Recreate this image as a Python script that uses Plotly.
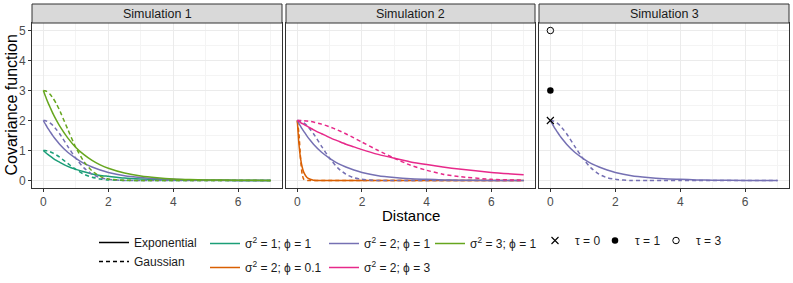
import plotly.graph_objects as go

W, H = 793, 283

# ---------------- data ----------------
dist = [0, 0.05, 0.1, 0.15, 0.2, 0.3, 0.4, 0.5, 0.75, 1, 1.25, 1.5, 1.75, 2,
        2.5, 3, 3.5, 4, 4.5, 5, 6, 7]

teal_exp = [1.00, 0.95, 0.90, 0.86, 0.82, 0.74, 0.67, 0.61, 0.47, 0.37, 0.29, 0.22,
            0.17, 0.14, 0.08, 0.05, 0.03, 0.02, 0.01, 0.01, 0.00, 0.00]
teal_gau = [1.00, 1.00, 0.99, 0.98, 0.96, 0.91, 0.85, 0.78, 0.57, 0.37, 0.21, 0.11,
            0.05, 0.02, 0.00, 0.00, 0.00, 0.00, 0.00, 0.00, 0.00, 0.00]
purple_exp = [2.00, 1.90, 1.81, 1.72, 1.64, 1.48, 1.34, 1.21, 0.94, 0.74, 0.57, 0.45,
              0.35, 0.27, 0.16, 0.10, 0.06, 0.04, 0.02, 0.01, 0.00, 0.00]
purple_gau = [2.00, 2.00, 1.98, 1.96, 1.92, 1.83, 1.70, 1.56, 1.14, 0.74, 0.42, 0.21,
              0.09, 0.04, 0.00, 0.00, 0.00, 0.00, 0.00, 0.00, 0.00, 0.00]
green_exp = [3.00, 2.85, 2.71, 2.58, 2.46, 2.22, 2.01, 1.82, 1.42, 1.10, 0.86, 0.67,
             0.52, 0.41, 0.25, 0.15, 0.09, 0.05, 0.03, 0.02, 0.01, 0.00]
green_gau = [3.00, 2.99, 2.97, 2.93, 2.88, 2.74, 2.56, 2.34, 1.71, 1.10, 0.63, 0.32,
             0.14, 0.05, 0.01, 0.00, 0.00, 0.00, 0.00, 0.00, 0.00, 0.00]
orange_exp = [2.00, 1.21, 0.74, 0.45, 0.27, 0.10, 0.04, 0.01, 0.00, 0.00, 0.00, 0.00,
              0.00, 0.00, 0.00, 0.00, 0.00, 0.00, 0.00, 0.00, 0.00, 0.00]
orange_gau = [2.00, 1.56, 0.74, 0.21, 0.04, 0.00, 0.00, 0.00, 0.00, 0.00, 0.00, 0.00,
              0.00, 0.00, 0.00, 0.00, 0.00, 0.00, 0.00, 0.00, 0.00, 0.00]
pink_exp = [2.00, 1.97, 1.93, 1.90, 1.87, 1.81, 1.75, 1.69, 1.56, 1.43, 1.32, 1.21,
            1.12, 1.03, 0.87, 0.74, 0.62, 0.53, 0.45, 0.38, 0.27, 0.19]
pink_gau = [2.00, 2.00, 2.00, 2.00, 1.99, 1.98, 1.97, 1.95, 1.88, 1.79, 1.68, 1.56,
            1.42, 1.28, 1.00, 0.74, 0.51, 0.34, 0.21, 0.13, 0.04, 0.01]

facet_titles = ["Simulation 1", "Simulation 2", "Simulation 3"]
nugget_dist = [0, 0, 0]
nugget_cov = [2, 3, 5]
nugget_labels = ["τ = 0", "τ = 1", "τ = 3"]

x_ticks = [0, 2, 4, 6]
y_ticks = [0, 1, 2, 3, 4, 5]

# ---------------- styling ----------------
COL = {"teal": "#1B9E77", "orange": "#D95F02", "purple": "#7570B3",
       "pink": "#E7298A", "green": "#66A61E"}
LBL = {"teal": "σ<sup>2</sup> = 1; ϕ = 1", "orange": "σ<sup>2</sup> = 2; ϕ = 0.1",
       "purple": "σ<sup>2</sup> = 2; ϕ = 1", "pink": "σ<sup>2</sup> = 2; ϕ = 3",
       "green": "σ<sup>2</sup> = 3; ϕ = 1"}
FONT = "Liberation Sans, Arial, sans-serif"
LW = 1.5
DASH = "4px,3px"


def px_x(p):
    return p / W


def px_y(p):
    return 1 - p / H


panels = [(32, 282), (286, 535), (539, 789)]
p_top, p_bot, s_top = 23, 188, 4

# (facet, colour key, exp values, gauss values, legend for colour or None)
curves = [
    (1, "teal", teal_exp, teal_gau, "legend2"),
    (1, "purple", purple_exp, purple_gau, "legend3"),
    (1, "green", green_exp, green_gau, "legend4"),
    (2, "orange", orange_exp, orange_gau, "legend2"),
    (2, "purple", purple_exp, purple_gau, None),
    (2, "pink", pink_exp, pink_gau, "legend3"),
    (3, "purple", purple_exp, purple_gau, None),
]

fig = go.Figure()

# linetype legend entries
fig.add_trace(go.Scatter(x=[None], y=[None], mode="lines", name="Exponential",
                         line=dict(color="black", width=LW), legend="legend"))
fig.add_trace(go.Scatter(x=[None], y=[None], mode="lines", name="Gaussian",
                         line=dict(color="black", width=LW, dash=DASH), legend="legend"))

for f, key, ye, yg, leg in curves:
    xa = "x" if f == 1 else f"x{f}"
    ya = "y" if f == 1 else f"y{f}"
    fig.add_trace(go.Scatter(x=dist, y=ye, mode="lines", xaxis=xa, yaxis=ya,
                             line=dict(color=COL[key], width=LW, shape="spline", smoothing=0.6),
                             name=LBL[key], showlegend=leg is not None, legendgroup=key,
                             legend=leg if leg else "legend"))
    fig.add_trace(go.Scatter(x=dist, y=yg, mode="lines", xaxis=xa, yaxis=ya,
                             line=dict(color=COL[key], width=LW, dash=DASH, shape="spline",
                                       smoothing=0.6),
                             showlegend=False, legendgroup=key))

symbols = [dict(symbol="x-thin-open", size=7, color="black", line=dict(width=1.1, color="black")),
           dict(symbol="circle", size=6.5, color="black"),
           dict(symbol="circle-open", size=6.5, color="black", line=dict(width=1, color="black"))]
for i in range(3):
    fig.add_trace(go.Scatter(x=[nugget_dist[i]], y=[nugget_cov[i]], mode="markers",
                             xaxis="x3", yaxis="y3", marker=symbols[i],
                             name=nugget_labels[i], legend=f"legend{5 + i}"))

axis_common = dict(showgrid=True, gridcolor="#EBEBEB", gridwidth=1, zeroline=False,
                   showline=True, linecolor="#333333", linewidth=1, mirror=True,
                   ticks="outside", ticklen=3, tickcolor="#333333", tickwidth=1,
                   tickfont=dict(size=12, color="#4D4D4D", family=FONT))

layout = dict(width=W, height=H, margin=dict(l=0, r=0, t=0, b=0, autoexpand=False),
              paper_bgcolor="white", plot_bgcolor="white",
              font=dict(family=FONT, size=12, color="#1A1A1A"))

shapes, annotations = [], []
for i, (x0, x1) in enumerate(panels, start=1):
    sfx = "" if i == 1 else str(i)
    layout[f"xaxis{sfx}"] = dict(axis_common, domain=[px_x(x0), px_x(x1)], range=[-0.35, 7.35],
                                 tickvals=x_ticks, anchor=f"y{sfx}",
                                 minor=dict(dtick=1, tick0=1, showgrid=True,
                                            gridcolor="#F4F4F4", gridwidth=1, ticks=""))
    ycfg = dict(axis_common, domain=[px_y(p_bot), px_y(p_top)], range=[-0.25, 5.25],
                tickvals=y_ticks, anchor=f"x{sfx}",
                minor=dict(dtick=0.5, tick0=0.5, showgrid=True, gridcolor="#F4F4F4",
                           gridwidth=1, ticks=""))
    if i > 1:
        ycfg.update(showticklabels=False, ticks="")
    layout[f"yaxis{sfx}"] = ycfg
    shapes.append(dict(type="rect", xref=f"x{sfx} domain", yref="paper", x0=0, x1=1,
                       y0=px_y(p_top), y1=px_y(s_top), fillcolor="#D9D9D9",
                       line=dict(color="#333333", width=1), layer="above"))
    annotations.append(dict(text=facet_titles[i - 1], xref=f"x{sfx} domain", yref="paper",
                            x=0.5, y=px_y((p_top + s_top) / 2), showarrow=False,
                            xanchor="center", yanchor="middle",
                            font=dict(size=12.5, color="#1A1A1A", family=FONT)))

annotations.append(dict(text="Distance", xref="paper", yref="paper", x=px_x(410.5),
                        y=px_y(215), showarrow=False, xanchor="center", yanchor="middle",
                        font=dict(size=15, color="black", family=FONT)))
annotations.append(dict(text="Covariance function", xref="paper", yref="paper", x=px_x(11),
                        y=px_y(105.5), showarrow=False, xanchor="center", yanchor="middle",
                        textangle=-90, font=dict(size=16, color="black", family=FONT)))

leg_common = dict(orientation="v", xanchor="left", yanchor="top", bgcolor="rgba(0,0,0,0)",
                  borderwidth=0, font=dict(size=12, color="#1A1A1A", family=FONT),
                  itemwidth=30, tracegroupgap=0)
layout["legend"] = dict(leg_common, x=px_x(94), y=px_y(228))
layout["legend2"] = dict(leg_common, x=px_x(205), y=px_y(229), tracegroupgap=5)
layout["legend3"] = dict(leg_common, x=px_x(324), y=px_y(229), tracegroupgap=5)
layout["legend4"] = dict(leg_common, x=px_x(430), y=px_y(229), tracegroupgap=5)
layout["legend5"] = dict(leg_common, x=px_x(535), y=px_y(226))
layout["legend6"] = dict(leg_common, x=px_x(595), y=px_y(226))
layout["legend7"] = dict(leg_common, x=px_x(656), y=px_y(226))

layout["shapes"] = shapes
layout["annotations"] = annotations
fig.update_layout(**layout)

fig.write_html("out.html", config={"displayModeBar": False},
               post_script="document.body.style.margin='0px';")
